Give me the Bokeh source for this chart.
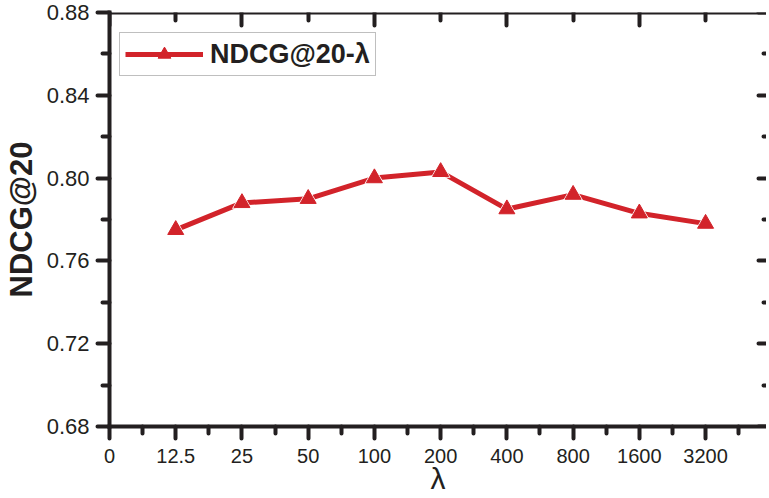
from bokeh.plotting import figure
from bokeh.models import (LinearAxis, FixedTicker, Range1d, Legend, LegendItem,
                          ColumnDataSource, NumeralTickFormatter, CustomJSTickFormatter)
from bokeh.embed import file_html
from bokeh.resources import INLINE

# ---- data ----
lambdas = ["12.5", "25", "50", "100", "200", "400", "800", "1600", "3200"]
ndcg20 = [0.775, 0.788, 0.790, 0.800, 0.803, 0.785, 0.792, 0.783, 0.778]
x_tick_labels = ["0"] + lambdas
y_major = [0.68, 0.72, 0.76, 0.80, 0.84, 0.88]
y_minor = [0.70, 0.74, 0.78, 0.82, 0.86]
series_label = "NDCG@20-λ"

positions = list(range(1, len(lambdas) + 1))
src = ColumnDataSource(dict(x=positions, y=ndcg20, lam=lambdas))

AX = "#231f20"
RED = "#d2232a"
FONT = "Liberation Sans"

p = figure(frame_width=657, frame_height=414,
           x_range=Range1d(0, 9.92), y_range=Range1d(0.68, 0.88),
           output_backend="svg", toolbar_location=None,
           min_border_left=104, min_border_right=0, min_border_top=12, min_border_bottom=60)
p.grid.visible = False
p.outline_line_alpha = 0
p.background_fill_color = "white"
p.border_fill_color = "white"

n_idx = len(x_tick_labels) + 1
x_major = list(range(0, n_idx))
x_minor = [i + 0.5 for i in range(0, n_idx - 1)]

blank = CustomJSTickFormatter(code="return ''")


def style_axis(ax):
    ax.axis_line_width = 4
    ax.axis_line_color = AX
    ax.axis_line_cap = "square"
    ax.major_tick_line_width = 4
    ax.minor_tick_line_width = 4
    ax.major_tick_line_color = AX
    ax.minor_tick_line_color = AX
    ax.major_tick_line_cap = "round"
    ax.minor_tick_line_cap = "round"
    ax.major_label_text_font = FONT
    ax.major_label_text_color = AX
    ax.axis_label_text_font = FONT
    ax.axis_label_text_color = AX


# bottom axis
xb = p.xaxis[0]
style_axis(xb)
xb.ticker = FixedTicker(ticks=x_major, minor_ticks=x_minor)
xb.major_label_overrides = {i: lab for i, lab in enumerate(x_tick_labels)}
xb.major_tick_out = 12
xb.major_tick_in = 0
xb.minor_tick_out = 7
xb.minor_tick_in = 0
xb.major_label_text_font_size = "20px"
xb.major_label_standoff = 10
xb.axis_label = "λ"
xb.axis_label_text_font_size = "30px"
xb.axis_label_text_font_style = "normal"
xb.axis_label_standoff = -4

# left axis
yl = p.yaxis[0]
style_axis(yl)
yl.ticker = FixedTicker(ticks=y_major, minor_ticks=y_minor)
yl.formatter = NumeralTickFormatter(format="0.00")
yl.major_tick_out = 12
yl.major_tick_in = 0
yl.minor_tick_out = 7
yl.minor_tick_in = 0
yl.major_label_text_font_size = "22px"
yl.major_label_standoff = 8
yl.axis_label = "NDCG@20"
yl.axis_label_text_font_size = "31px"
yl.axis_label_text_font_style = "bold"
yl.axis_label_standoff = 5

# top axis (ticks inward, no labels)
xt = LinearAxis(formatter=blank, fixed_location=0.88)
style_axis(xt)
xt.ticker = FixedTicker(ticks=[i for i in x_major if i % 2 == 0],
                        minor_ticks=[i for i in x_major if i % 2 == 1])
xt.major_tick_in = 13
xt.major_tick_out = 0
xt.minor_tick_in = 8
xt.minor_tick_out = 0
xt.major_label_standoff = 0
p.add_layout(xt, "above")

# right axis (ticks inward, its line lies just beyond the window)
yr = LinearAxis(formatter=blank, fixed_location=10)
style_axis(yr)
yr.ticker = FixedTicker(ticks=y_major, minor_ticks=y_minor)
yr.axis_line_alpha = 0
yr.major_tick_in = 13
yr.major_tick_out = 0
yr.minor_tick_in = 8
yr.minor_tick_out = 0
yr.major_label_standoff = 0
p.add_layout(yr, "right")

# series
ln = p.line("x", "y", source=src, line_color=RED, line_width=5)
gap = p.scatter("x", "y", source=src, marker="triangle", size=20,
                fill_color="white", line_color="white", line_width=0)
tri = p.scatter("x", "y", source=src, marker="triangle", size=16,
                fill_color=RED, line_color=RED, line_width=1)

legend = Legend(items=[LegendItem(label=series_label, renderers=[ln, tri])],
                location=(10, 350))
legend.label_text_font = FONT
legend.label_text_font_size = "27px"
legend.label_text_font_style = "bold"
legend.label_text_color = AX
legend.glyph_width = 78
legend.glyph_height = 32
legend.label_standoff = 7
legend.padding = 5
legend.spacing = 0
legend.margin = 0
legend.border_line_color = "#808080"
legend.border_line_width = 1.5
legend.background_fill_color = "white"
legend.background_fill_alpha = 1
p.add_layout(legend)

open("out.html", "w").write(file_html(p, INLINE))
